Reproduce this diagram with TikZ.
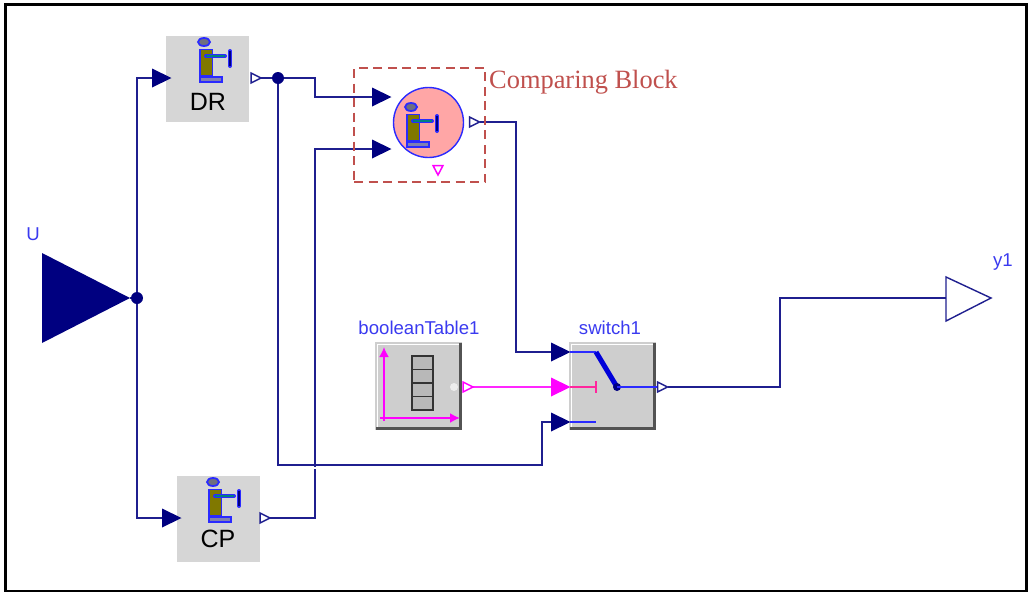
\documentclass[tikz,border=0pt]{standalone}
\usepackage{fontspec}
\usetikzlibrary{arrows.meta}
\setmainfont{Liberation Sans}
\newfontfamily\serifcap{Liberation Serif}
\definecolor{wirec}{HTML}{1F1F8F}
\definecolor{portc}{HTML}{000080}
\definecolor{magc}{HTML}{FF00FF}
\definecolor{bluec}{HTML}{2A2AFF}
\definecolor{labc}{HTML}{3A3AF0}
\definecolor{redc}{HTML}{C0504D}
\definecolor{blockg}{HTML}{D6D6D6}
\definecolor{bevelg}{HTML}{CECECE}
\definecolor{cellg}{HTML}{B8B8B8}
\definecolor{olivec}{HTML}{807800}
\definecolor{headg}{HTML}{6E6E80}
\definecolor{baseg}{HTML}{8080B0}
\tikzset{
  wire/.style={draw=wirec,line width=1.6pt,line join=miter},
  magwire/.style={draw=magc!85!white,line width=1.6pt},
  innerwire/.style={draw=bluec,line width=1.6pt},
  flatblock/.style={fill=blockg,draw=none,inner sep=0pt,minimum width=83pt,minimum height=86pt},
  bevelblock/.style={fill=bevelg,draw=none,inner sep=0pt,minimum width=87pt,minimum height=88pt},
  lab/.style={inner sep=0pt,text=labc,font=\fontsize{18.6}{20}\selectfont},
  blocktext/.style={inner sep=0pt,text=black,font=\fontsize{25}{28}\selectfont},
  pics/inport/.style={code={\fill[pic actions] (0,-9.5)--(0,9.5)--(19.5,0)--cycle;}},
  pics/outport/.style={code={\draw[draw=#1,fill=white,line width=1.5pt] (0,-5)--(0,5)--(10,0)--cycle;}},
  pics/person/.style={code={
    \draw[draw=bluec,fill=headg,line width=1.8pt] (0,0) ellipse (6pt and 4pt);
    \draw[draw=bluec,fill=olivec,line width=1.8pt] (-4,7.5) rectangle (8.5,34);
    \draw[draw=bluec,fill=baseg,line width=1.8pt] (-4,35) rectangle (18,40);
    \draw[draw=bluec,line width=4pt,line cap=round] (2,14) -- (21,14);
    \draw[draw=teal,line width=1.2pt] (2,14) -- (21,14);
    \draw[draw=bluec,line width=4pt,line cap=round] (26,9) -- (26,24);
    \draw[draw=portc,line width=1.5pt] (26,9) -- (26,24);
  }},
}
\newcommand{\bevel}[1]{%
  \draw[white,line width=1.5pt] ([shift={(2.5,-3)}]#1.south west) -- ([shift={(2.5,2.5)}]#1.north west) -- ([shift={(-3,2.5)}]#1.north east);
  \draw[gray!65!black,line width=3pt] ([shift={(-1.5,1)}]#1.north east) -- ([shift={(-1.5,-1.5)}]#1.south east) -- ([shift={(1,-1.5)}]#1.south west);
}
\begin{document}
\begin{tikzpicture}[x=1pt,y=-1pt]
\useasboundingbox (0,0) rectangle (1029,592);
\fill[white] (0,0) rectangle (1029,592);
\draw[black,line width=3pt] (5.5,4.5) rectangle (1026.5,591);

% blocks
\node[flatblock] (DR) at (207.5,79) {};
\node[flatblock] (CP) at (218.5,518.5) {};
\node[bevelblock] (table) at (418.5,386) {};
\node[bevelblock] (switch) at (612.5,386) {};
\bevel{table}
\bevel{switch}
\node[circle,draw=bluec,fill=red!35!white,line width=1.4pt,minimum size=70pt,inner sep=0pt] (cmp) at (428.5,122.5) {};

% named connection points
\coordinate (uout) at (130,298);
\coordinate (jU) at (137,298);
\coordinate (jD) at (278,78);
\coordinate (DRin) at (152,78);
\coordinate (CPin) at (162,518);
\coordinate (DRout) at (261,78);
\coordinate (CPout) at (270,518);
\coordinate (cmpA) at (372,97);
\coordinate (cmpB) at (372,149);
\coordinate (cmpout) at (480,122);
\coordinate (swA) at (551,352);
\coordinate (swB) at (551,387);
\coordinate (swC) at (551,422);
\coordinate (tabout) at (473,387);
\coordinate (swout) at (668,387);
\coordinate (yin) at (946,298);
\coordinate (pivot) at (617,387);
\coordinate (bladeTop) at (596,352);

% connectors
\draw[wire] (uout) -- (jU);
\draw[wire] (jU) |- (DRin);
\draw[wire] (jU) |- (CPin);
\draw[wire] (DRout) -- (jD);
\draw[wire] (jD) -- (315,78) -- (315,97) -- (cmpA);
\draw[wire] (CPout) -- (315,518) -- (315,149) -- (cmpB);
\draw[wire] (jD) -- (278,465) -- (542,465) -- (542,422) -- (swC);
\draw[white,line width=1.6pt] (315,467) -- (315,469);
\draw[wire] (cmpout) -- (516,122) -- (516,352) -- (swA);
\draw[magwire] (tabout) -- (swB);
\draw[wire] (swout) -- (780,387) -- (780,298) -- (yin);

% ports
\pic[fill=portc] at (DRin) {inport};
\pic[fill=portc] at (CPin) {inport};
\pic[fill=portc] at (cmpA) {inport};
\pic[fill=portc] at (cmpB) {inport};
\pic[fill=portc] at (swA) {inport};
\pic[fill=magc] at (swB) {inport};
\pic[fill=portc] at (swC) {inport};
\pic at (251,78) {outport=wirec};
\pic at (260,518) {outport=wirec};
\pic at (469.5,122) {outport=wirec};
\pic at (463,387) {outport=magc};
\pic at (657.5,387) {outport=wirec};
\draw[draw=magc,fill=white,line width=1.5pt] (433,165.5)--(443,165.5)--(438,175)--cycle;

% junctions
\fill[portc] (jU) circle (6pt);
\fill[portc] (jD) circle (6pt);

% U and y1
\fill[portc] (42,253) -- (42,343) -- (130,298) -- cycle;
\draw[wirec,fill=white,line width=1.4pt] (946,277) -- (946,321) -- (991,298) -- cycle;

% person icons
\pic at (204,42) {person};
\pic at (213,482) {person};
\pic at (411,107) {person};
\node[blocktext] (DRt) at (208,102) {DR};
\node[blocktext] (CPt) at (218,539) {CP};

% comparing block highlight
\node[draw=redc,dash pattern=on 9pt off 5.5pt,line width=2.4pt,minimum width=131pt,minimum height=114pt,inner sep=0pt] (cmpbox) at (419.5,125) {};
\node[anchor=base west,inner sep=0pt,text=redc,font=\serifcap\fontsize{26.4}{28}\selectfont] (cmpt) at (489,88) {Comparing Block};

% table icon
\draw[magc,line width=1.8pt,-{Latex[length=10pt,width=10pt]}] (384,421) -- (384,347);
\draw[magc,line width=1.8pt,-{Latex[length=10pt,width=10pt]}] (380,418) -- (460,418);
\foreach \a/\b in {356/369.5,369.5/383,383/396.5,396.5/410}
  \draw[black!80,fill=cellg,line width=1.5pt] (412,\a) rectangle (433,\b);
\fill[gray!15!white] (454,387) circle (4pt);

% switch icon
\draw[innerwire] (570,352) -- (596,352);
\draw[draw=magc!55!red!85!white,line width=1.6pt] (570,387) -- (596,387);
\draw[draw=magc!55!red!85!white,line width=1.6pt] (596,381) -- (596,393);
\draw[innerwire] (570,422) -- (596,422);
\draw[draw=blue!85!black,line width=5pt] (596,352) -- (pivot);
\fill[portc] (pivot) circle (4pt);
\draw[innerwire] (pivot) -- (657,387);

% labels
\node[lab] (Ul) at (33,234) {U};
\node[lab] (yl) at (1003,262) {y1};
\node[lab] (tl) at (419,328) {booleanTable1};
\node[lab] (sl) at (610,328) {switch1};
\end{tikzpicture}
\end{document}
